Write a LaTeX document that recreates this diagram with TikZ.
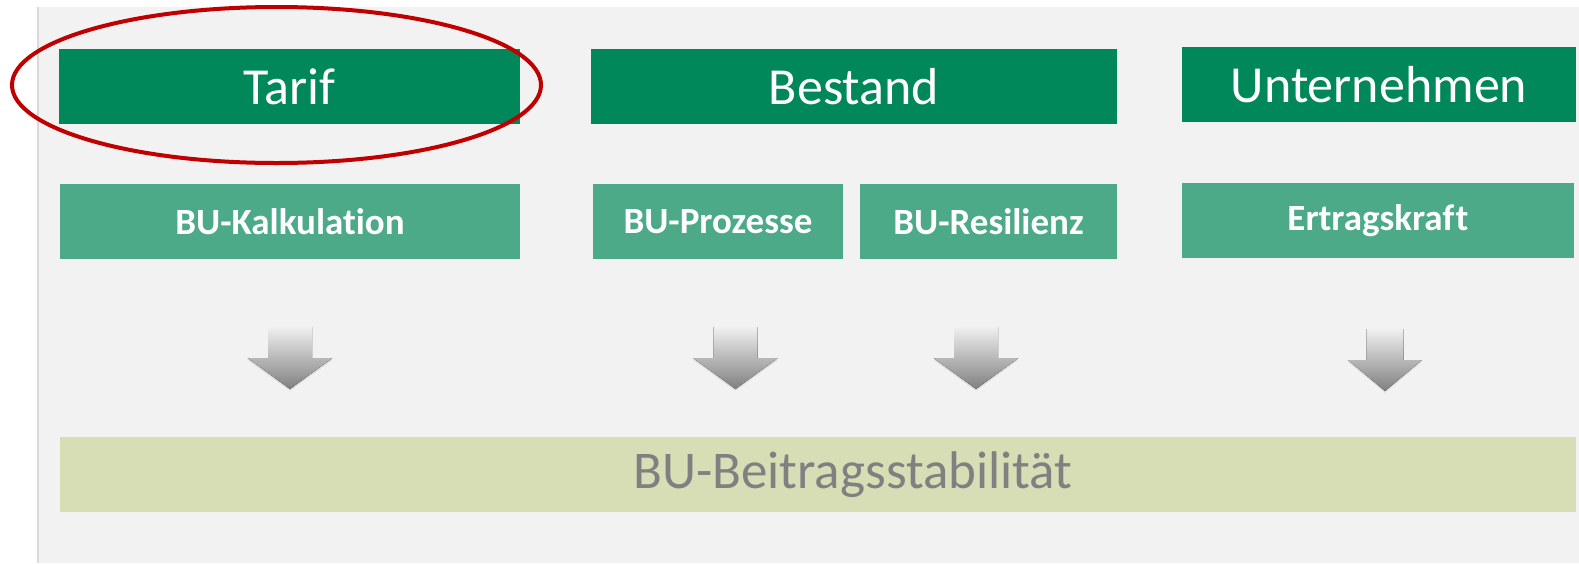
\documentclass[tikz,border=0pt]{standalone}
\usepackage{fontspec}
\setmainfont{Carlito}[Ligatures={NoCommon}]
\usetikzlibrary{shadows}

\definecolor{panelgray}{HTML}{F2F2F2}
\definecolor{darkgreen}{HTML}{00875A}
\definecolor{midgreen}{HTML}{4CAA88}
\definecolor{olivebar}{HTML}{D7DDB5}
\definecolor{ringred}{HTML}{C00000}

\begin{document}
\begin{tikzpicture}[x=1pt,y=-1pt,
  topbox/.style={fill=darkgreen,text=white,inner sep=0pt,minimum height=75pt,minimum width=#1,font=\fontsize{52}{60}\selectfont},
  subbox/.style={fill=midgreen,text=white,inner sep=0pt,minimum height=75pt,minimum width=#1,font=\fontsize{37}{44}\selectfont\bfseries},
  downarrow/.style={top color=black!6,bottom color=black!50,drop shadow={opacity=0.15,shadow xshift=0pt,shadow yshift=-2pt}}]

\useasboundingbox (0,0) rectangle (1579,563);

% panel
\fill[panelgray] (39,7) rectangle (1579,563);
\draw[black!15,line width=2pt] (38,7) -- (38,563);

% top row
\node[topbox=461pt] (tarif) at (289.5,86.5) {Tarif};
\node[topbox=526pt] (bestand) at (854,86.5) {Bestand};
\node[topbox=394pt] (unternehmen) at (1379,84.5) {Unternehmen};

% second row
\node[subbox=460pt] (kalkulation) at (290,221.5) {BU-Kalkulation};
\node[subbox=250pt] (prozesse) at (718,221.5) {BU-Prozesse};
\node[subbox=257pt] (resilienz) at (988.5,221.5) {BU-Resilienz};
\node[subbox=392pt] (ertrag) at (1378,220.5) {Ertragskraf\kern1.5pt t};

% arrows
\foreach \c/\s/\h/\t in {290/22/42.5/327, 735.5/22/42.5/327, 976/22/42.5/327, 1385/18.5/37/329}
  \fill[downarrow] (\c-\s,\t) -- (\c+\s,\t) -- (\c+\s,\t+31) -- (\c+\h,\t+31)
    -- (\c,\t+62) -- (\c-\h,\t+31) -- (\c-\s,\t+31) -- cycle;

% result
\node[fill=olivebar,text=black!50,inner sep=0pt,minimum height=75pt,minimum width=1516pt,
  font=\fontsize{53}{60}\selectfont] (beitrag) at (818,474.5) {\hspace*{70pt}BU-Beitragsstabilität};

% highlight
\draw[ringred,line width=4pt] (276.5,85) ellipse [x radius=264.5, y radius=78];

\end{tikzpicture}
\end{document}
